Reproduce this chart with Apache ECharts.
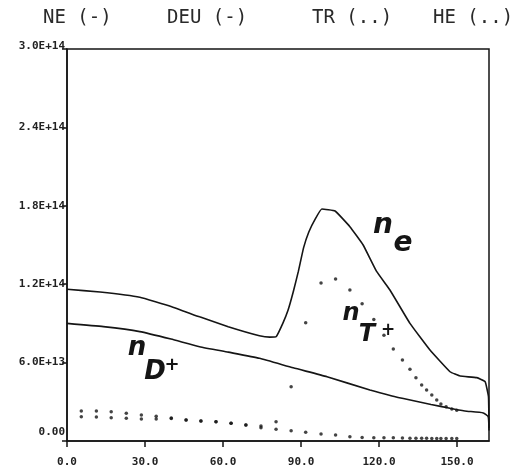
<!DOCTYPE html>
<html>
<head>
<meta charset="utf-8">
<script src="https://cdn.jsdelivr.net/npm/echarts@6/dist/echarts.min.js"></script>
<style>
  html, body { margin: 0; padding: 0; background: #fff; }
  #chart { width: 524px; height: 473px; }
</style>
</head>
<body>
<div id="chart"></div>
<script>
// tick labels
const xTickLabels = ["0.0", "30.0", "60.0", "90.0", "120.0", "150.0"];
const yTickLabels = ["0.00", "6.0E+13", "1.2E+14", "1.8E+14", "2.4E+14", "3.0E+14"];
const seriesNames = ["NE (-)", "DEU (-)", "TR (..)", "HE (..)"];

// NE - electron density (solid)
const xNe = [0, 12.7, 28, 40, 51, 62, 74, 78, 80.5, 83, 85, 87, 89, 91, 93, 95.5, 98, 103.1, 108.8, 113.9, 119, 124.2, 131.9, 139.6, 147.3, 151.2, 157.6, 160.8, 162.1, 162.3];
const ne = [1.161e14, 1.14e14, 1.10e14, 1.03e14, 9.5e13, 8.75e13, 8.06e13, 7.95e13, 8.0e13, 9.0e13, 1.0e14, 1.14e14, 1.3e14, 1.48e14, 1.6e14, 1.7e14, 1.775e14, 1.76e14, 1.64e14, 1.5e14, 1.30e14, 1.156e14, 9.0e13, 6.96e13, 5.3e13, 4.97e13, 4.85e13, 4.54e13, 3.4e13, 1.0e13];

// DEU - deuterium ion density (solid)
const xDeu = [0, 14, 28, 40, 51, 62, 74, 87, 100, 116.5, 125, 132, 140, 147.3, 153, 160.1, 162, 162.3];
const deu = [9.0e13, 8.75e13, 8.37e13, 7.8e13, 7.22e13, 6.8e13, 6.33e13, 5.6e13, 4.92e13, 3.9e13, 3.45e13, 3.14e13, 2.8e13, 2.5e13, 2.3e13, 2.15e13, 1.86e13, 8e12];

// TR and HE (dotted, shared grid)
const xDots = [5.5, 11.3, 17.0, 22.8, 28.6, 34.3, 40.1, 45.8, 51.5, 57.3, 63.1, 68.8, 74.6, 80.4, 86.2, 91.8, 97.7, 103.3, 108.8, 113.5, 118.0, 121.9, 125.5, 129.0, 131.9, 134.2, 136.4, 138.3, 140.3, 142.2, 143.8, 145.8, 148.0, 149.9];
const tr = [2.30e13, 2.30e13, 2.24e13, 2.12e13, 1.99e13, 1.89e13, 1.76e13, 1.61e13, 1.53e13, 1.48e13, 1.35e13, 1.22e13, 1.15e13, 1.48e13, 4.16e13, 9.05e13, 1.21e14, 1.24e14, 1.156e14, 1.05e14, 9.3e13, 8.1e13, 7.04e13, 6.2e13, 5.49e13, 4.85e13, 4.29e13, 3.9e13, 3.52e13, 3.14e13, 2.83e13, 2.62e13, 2.45e13, 2.35e13];
const he = [1.86e13, 1.84e13, 1.78e13, 1.74e13, 1.68e13, 1.68e13, 1.72e13, 1.61e13, 1.53e13, 1.48e13, 1.35e13, 1.22e13, 1.02e13, 8.95e12, 7.9e12, 6.7e12, 5.4e12, 4.6e12, 3.3e12, 2.6e12, 2.5e12, 2.5e12, 2.5e12, 2.3e12, 2.2e12, 2.1e12, 2.1e12, 2.1e12, 2.0e12, 2.0e12, 2.0e12, 2.0e12, 2.0e12, 2.0e12];

const ink = "#151515";
const zip = (xs, ys) => xs.map((x, i) => [x, ys[i]]);

const labelFont = { fontFamily: "DejaVu Sans Mono", fontSize: 11, fontWeight: "bold", color: "#222" };

// handwritten annotations
const hand = (text, x, y, size) => ({
  type: "text",
  x: x,
  y: y,
  z: 50,
  style: {
    text: text,
    font: `italic bold ${size}px "DejaVu Sans"`,
    fill: ink,
    align: "center",
    verticalAlign: "middle",
    textAlign: "center",
    textVerticalAlign: "middle",
  },
});
const header = (text, x) => ({
  type: "text",
  x: x,
  y: 18,
  style: {
    text: text,
    font: '19px "DejaVu Sans Mono"',
    fill: "#2a2a2a",
    align: "left",
    verticalAlign: "middle",
    textAlign: "left",
    textVerticalAlign: "middle",
  },
});

const chart = echarts.init(document.getElementById("chart"));
chart.setOption({
  animation: false,
  backgroundColor: "#fff",
  grid: {
    left: 67, right: 35, top: 49, bottom: 32,
    show: true, borderColor: ink, borderWidth: 1.5,
  },
  graphic: [
    header(seriesNames[0], 43),
    header(seriesNames[1], 167),
    header(seriesNames[2], 312),
    header(seriesNames[3], 433),
    hand("n", 383, 226, 28),
    hand("e", 403, 244, 28),
    hand("n", 351, 314, 24),
    hand("T", 367, 335, 24),
    hand("+", 388, 331, 17),
    hand("n", 137, 348, 26),
    hand("D", 155, 372, 26),
    hand("+", 172, 365, 18),
  ],
  xAxis: {
    type: "value",
    min: 0,
    max: 162.3,
    interval: 30,
    axisLine: { lineStyle: { color: ink, width: 1.5 } },
    axisTick: { length: 6, lineStyle: { color: ink, width: 1.5 } },
    splitLine: { show: false },
    axisLabel: {
      ...labelFont,
      margin: 16,
      showMaxLabel: false,
      formatter: (v) => xTickLabels[Math.round(v / 30)] ?? "",
    },
  },
  yAxis: {
    type: "value",
    min: 0,
    max: 3e14,
    interval: 6e13,
    axisLine: { show: true, lineStyle: { color: ink, width: 1.5 } },
    axisTick: { show: true, length: 5, lineStyle: { color: ink, width: 1.5 } },
    splitLine: { show: false },
    axisLabel: {
      ...labelFont,
      margin: 2,
      formatter: (v) => {
        const i = Math.round(v / 6e13);
        if (i === 0) return "{low|" + yTickLabels[0] + "}";
        if (i === 5) return "{top|" + yTickLabels[5] + "}";
        return yTickLabels[i];
      },
      rich: {
        low: { ...labelFont, padding: [0, 0, 18, 0] },
        top: { ...labelFont, padding: [0, 0, 6, 0] },
      },
    },
  },
  series: [
    {
      name: seriesNames[0],
      type: "line",
      data: zip(xNe, ne),
      showSymbol: false,
      smooth: 0.1,
      lineStyle: { color: ink, width: 1.6 },
    },
    {
      name: seriesNames[1],
      type: "line",
      data: zip(xDeu, deu),
      showSymbol: false,
      smooth: 0.15,
      lineStyle: { color: ink, width: 1.6 },
    },
    {
      name: seriesNames[2],
      type: "scatter",
      data: zip(xDots, tr),
      symbol: "circle",
      symbolSize: 3.5,
      itemStyle: { color: ink },
    },
    {
      name: seriesNames[3],
      type: "scatter",
      data: zip(xDots, he),
      symbol: "circle",
      symbolSize: 3.5,
      itemStyle: { color: ink },
    },
  ],
});
</script>
</body>
</html>
